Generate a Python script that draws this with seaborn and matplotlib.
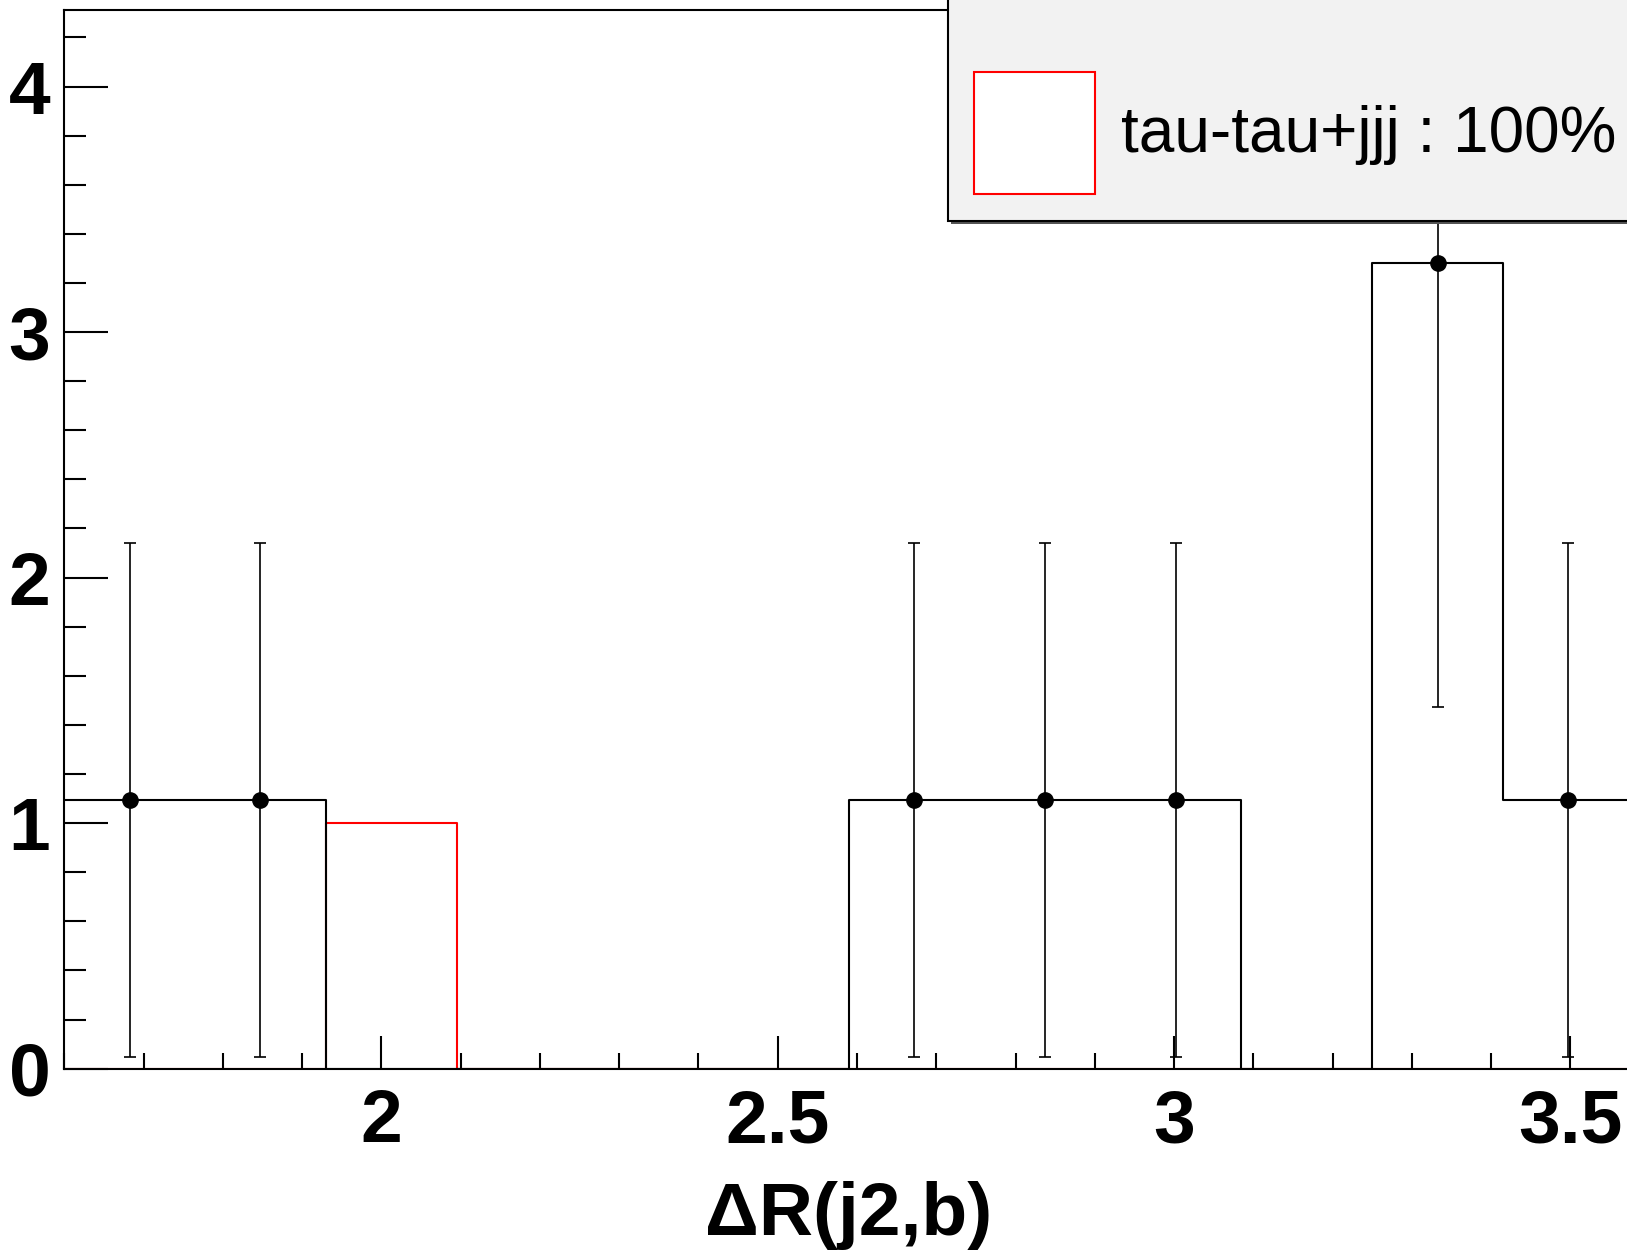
import numpy as np
import matplotlib
matplotlib.use("Agg")
import matplotlib.pyplot as plt
import seaborn as sns
from matplotlib.patches import Rectangle
from matplotlib.ticker import MultipleLocator

# Bin layout (delta R axis)
bin_edges = [1.6, 1.765, 1.93, 2.095, 2.26, 2.425, 2.59, 2.755, 2.92, 3.085, 3.25, 3.415, 3.58]
bin_centers = [1.6825, 1.8475, 2.0125, 2.1775, 2.3425, 2.5075, 2.6725, 2.8375, 3.0025, 3.1675, 3.3325, 3.4975]

# Black histogram / data points
data_values = [1.094, 1.094, 0, 0, 0, 0, 1.094, 1.094, 1.094, 0, 3.283, 1.094]
data_errors = [1.046, 1.046, 0, 0, 0, 0, 1.046, 1.046, 1.046, 0, 1.812, 1.046]

# Red histogram (tau-tau+jjj)
bkg_values = [0, 0, 1.0, 0, 0, 0, 0, 0, 0, 0, 0, 0]
bkg_label = "tau-tau+jjj : 100%"

x_title = "\u0394R(j2,b)"

sns.set_theme(style="ticks", rc={"text.color": "black", "axes.labelcolor": "black",
                                 "xtick.color": "black", "ytick.color": "black"})
plt.rcParams["font.family"] = ["Liberation Sans", "DejaVu Sans"]

fig = plt.figure(figsize=(16.27, 12.54), dpi=100)
ax = fig.add_axes([0.0395, 0.1478, 0.9647, 0.8439])

# Red histogram drawn first, then black on top
sns.histplot(x=bin_centers, weights=bkg_values, bins=bin_edges, element="step",
             fill=False, color="#ff0000", linewidth=1.5, ax=ax)
sns.histplot(x=bin_centers, weights=data_values, bins=bin_edges, element="step",
             fill=False, color="black", linewidth=1.5, ax=ax)

# Points with error bars for non-empty bins
centers = np.array(bin_centers)
vals = np.array(data_values)
errs = np.array(data_errors)
mask = vals > 0
ax.errorbar(centers[mask], vals[mask], yerr=errs[mask], fmt="o", color="black",
            markersize=11, elinewidth=1.2, capsize=4, capthick=1.2, zorder=5)

ax.set_xlim(1.6, 3.58)
ax.set_ylim(0, 4.31)

ax.xaxis.set_major_locator(MultipleLocator(0.5))
ax.xaxis.set_minor_locator(MultipleLocator(0.1))
ax.yaxis.set_major_locator(MultipleLocator(1))
ax.yaxis.set_minor_locator(MultipleLocator(0.2))
ax.xaxis.set_major_formatter(plt.FuncFormatter(lambda v, p: f"{v:g}"))

ax.tick_params(axis="x", which="major", direction="in", length=24, width=1.5,
               labelsize=54, pad=14)
ax.tick_params(axis="x", which="minor", direction="in", length=11.5, width=1.5)
ax.tick_params(axis="y", which="major", direction="in", length=32, width=1.5,
               labelsize=54, pad=10)
ax.tick_params(axis="y", which="minor", direction="in", length=16, width=1.5)
for lbl in ax.get_xticklabels() + ax.get_yticklabels():
    lbl.set_fontweight("bold")
    lbl.set_color("black")

for side in ["left", "bottom", "top", "right"]:
    ax.spines[side].set_linewidth(1.5)
    ax.spines[side].set_color("black")

ax.set_ylabel("")
ax.set_xlabel(x_title, fontsize=54, fontweight="bold", labelpad=17, color="black")

# Legend box (extends past the top/right of the canvas)
shadow = Rectangle((0.5845, 0.8215), 0.5, 0.3, transform=fig.transFigure,
                   facecolor="#555555", edgecolor="none", zorder=9)
box = Rectangle((0.5827, 0.8238), 0.5, 0.3, transform=fig.transFigure,
                facecolor="#f2f2f2", edgecolor="black", linewidth=1.5, zorder=10)
handle = Rectangle((0.5987, 0.8453), 0.0744, 0.0973, transform=fig.transFigure,
                   facecolor="white", edgecolor="#ff0000", linewidth=1.5, zorder=11)
fig.add_artist(shadow)
fig.add_artist(box)
fig.add_artist(handle)
fig.text(0.689, 0.8925, bkg_label, fontsize=46, va="center", ha="left",
         color="black", zorder=12)

fig.savefig("out.png", dpi=100)
